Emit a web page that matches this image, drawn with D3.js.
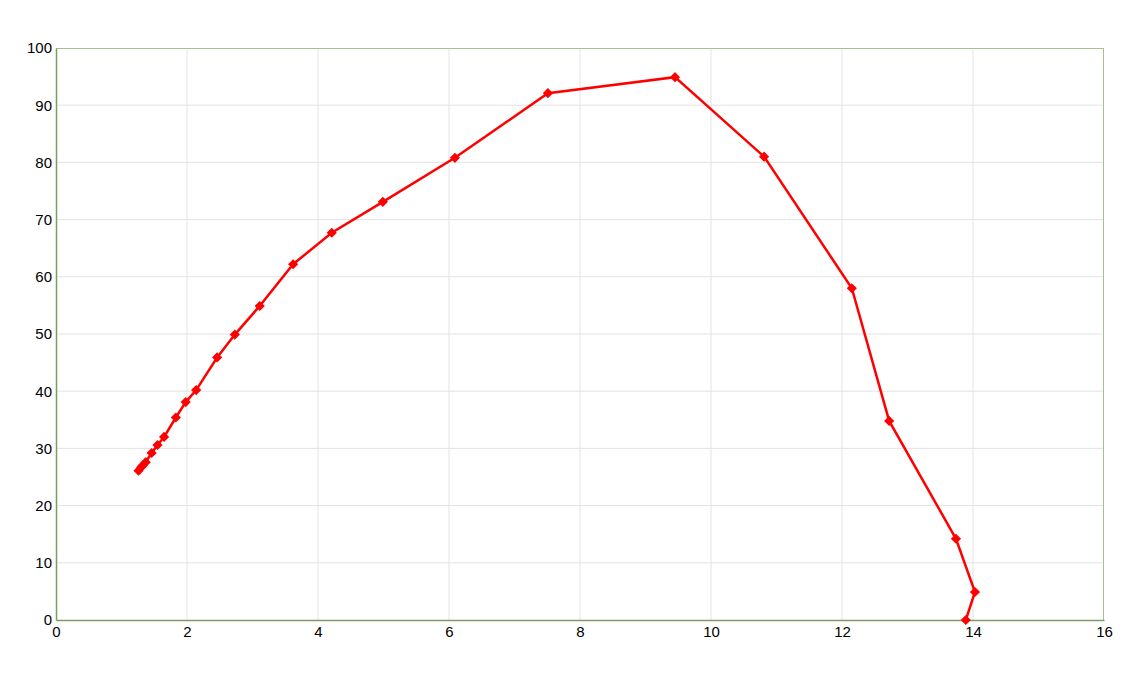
<!DOCTYPE html>
<html>
<head>
<meta charset="utf-8">
<script src="https://cdn.jsdelivr.net/npm/d3@7"></script>
<style>
  body { margin: 0; background: #fff; }
  .tick text { font-family: "Liberation Sans", Arial, sans-serif; font-size: 15px; fill: #000; }
</style>
</head>
<body>
<script>
// values
var xValues = [1.26, 1.30, 1.33, 1.37, 1.46, 1.55, 1.65, 1.83, 1.98, 2.14, 2.46, 2.73, 3.11, 3.62, 4.21, 4.99, 6.09, 7.51, 9.45, 10.81, 12.15, 12.72, 13.74, 14.03, 13.89]
var yValues = [26.1, 26.7, 27.1, 27.6, 29.2, 30.6, 32.0, 35.4, 38.1, 40.2, 45.9, 49.9, 54.9, 62.2, 67.7, 73.1, 80.8, 92.1, 94.9, 81.0, 58.0, 34.8, 14.2, 4.9, 0]
var xTicks = [0, 2, 4, 6, 8, 10, 12, 14, 16]
var yTicks = [0, 10, 20, 30, 40, 50, 60, 70, 80, 90, 100]

var points = xValues.map(function(x, i) { return {x: x, y: yValues[i]}; });

var margin = {top: 48, right: 31, bottom: 70, left: 56},
    width = 1135 - margin.left - margin.right,
    height = 690 - margin.top - margin.bottom;

var svg = d3.select("body").append("svg")
    .attr("width", 1135)
    .attr("height", 690);

var chart = svg.append("g")
    .attr("transform", "translate(" + margin.left + "," + margin.top + ")");

var xScale = d3.scaleLinear().domain([0, 16]).range([0, width]);
var yScale = d3.scaleLinear().domain([0, 100]).range([height, 0]);

// grid
chart.append("g").selectAll("line").data(xTicks.slice(1, -1)).enter().append("line")
    .attr("x1", function(d) { return xScale(d); }).attr("x2", function(d) { return xScale(d); })
    .attr("y1", 0).attr("y2", height)
    .style("stroke", "#e3e3e3");
chart.append("g").selectAll("line").data(yTicks.slice(1, -1)).enter().append("line")
    .attr("y1", function(d) { return yScale(d); }).attr("y2", function(d) { return yScale(d); })
    .attr("x1", 0).attr("x2", width)
    .style("stroke", "#e3e3e3");

// frame
chart.append("line").attr("x1", 0).attr("x2", width).attr("y1", 0.5).attr("y2", 0.5)
    .style("stroke", "#a8bf90");
chart.append("line").attr("x1", width - 0.5).attr("x2", width - 0.5).attr("y1", 0).attr("y2", height)
    .style("stroke", "#a8bf90");

// axes
var xAxis = chart.append("g")
    .attr("transform", "translate(0," + height + ")")
    .call(d3.axisBottom(xScale).tickValues(xTicks).tickSize(0).tickPadding(6));
var yAxis = chart.append("g")
    .call(d3.axisLeft(yScale).tickValues(yTicks).tickSize(0).tickPadding(4));
xAxis.select(".domain").style("stroke", "#7d9b62").style("stroke-width", 1.5);
yAxis.select(".domain").style("stroke", "#7d9b62").style("stroke-width", 1.5);

// line
var line = d3.line()
    .x(function(d) { return xScale(d.x); })
    .y(function(d) { return yScale(d.y); });

chart.append("path")
    .datum(points)
    .attr("d", line)
    .style("fill", "none")
    .style("stroke", "#ff0000")
    .style("stroke-width", 2.5);

// diamond markers
chart.append("g").selectAll("path").data(points).enter().append("path")
    .attr("d", d3.symbol().type(d3.symbolDiamond2).size(66))
    .attr("transform", function(d) { return "translate(" + xScale(d.x) + "," + yScale(d.y) + ")"; })
    .style("fill", "#ff0000");
</script>
</body>
</html>
